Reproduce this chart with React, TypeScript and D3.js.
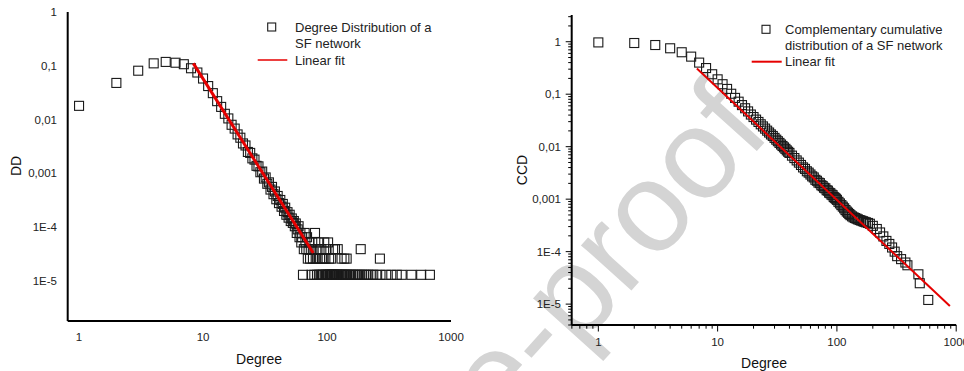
import React from 'react'
import * as d3 from 'd3'

// degree distribution: [degree, DD]
const ddPoints: [number, number][] = [
  [1, 0.018], [2, 0.048], [3, 0.081], [4, 0.111], [5, 0.118], [6, 0.114], [7, 0.107], [8, 0.09],
  [9, 0.075], [10, 0.058], [11, 0.042], [12, 0.031], [13, 0.022], [14, 0.0172], [15, 0.0128],
  [16, 0.0105], [17, 0.008], [18, 0.0068], [19, 0.0053], [20, 0.0046], [21, 0.0036], [22, 0.0033],
  [23, 0.0025], [24, 0.0024], [25, 0.0019], [26, 0.0018], [27, 0.00138], [28, 0.00135], [29, 0.00105],
  [30, 0.00108], [31, 0.0008], [32, 0.00084], [33, 0.00064], [34, 0.00068], [35, 0.0005], [36, 0.00056],
  [37, 0.00041], [38, 0.00046], [39, 0.00033], [40, 0.00038], [41, 0.00028], [42, 0.00032], [43, 0.00024],
  [44, 0.00027], [45, 0.0002], [46, 0.00023], [47, 0.00017], [48, 0.00019], [49, 0.00015], [50, 0.00017],
  [51, 0.00013], [52, 0.000145], [53, 0.00012], [54, 0.00013],
  [55, 1.04e-4], [56, 1.17e-4], [57, 7.8e-5], [58, 9.1e-5], [59, 1.04e-4], [60, 6.5e-5], [61, 7.8e-5],
  [62, 5.2e-5], [63, 6.5e-5], [65, 3.9e-5], [66, 7.8e-5], [67, 5.2e-5], [68, 3.9e-5], [69, 6.5e-5],
  [70, 2.6e-5], [71, 3.9e-5], [72, 5.2e-5], [73, 2.6e-5], [74, 3.9e-5], [76, 5.2e-5], [77, 2.6e-5],
  [78, 3.9e-5], [80, 7.8e-5], [81, 2.6e-5], [82, 3.9e-5], [84, 2.6e-5], [85, 5.2e-5], [87, 3.9e-5],
  [88, 2.6e-5], [90, 3.9e-5], [92, 2.6e-5], [94, 2.6e-5], [95, 5.2e-5], [97, 2.6e-5], [99, 3.9e-5],
  [102, 5.2e-5], [104, 2.6e-5], [108, 2.6e-5], [112, 3.9e-5], [116, 3.9e-5], [122, 3.9e-5],
  [131, 2.6e-5], [138, 2.6e-5], [144, 2.6e-5], [187, 3.9e-5], [267, 2.6e-5]
]
// degrees sitting on the lowest level (one node)
const ddFloor = 1.3e-5
const ddFloorDegrees = [
  64, 75, 79, 83, 86, 89, 91, 93, 96, 98, 100, 101, 103, 105, 106, 107, 109, 110, 111, 113, 114, 115,
  117, 119, 120, 121, 124, 126, 129, 132, 134, 137, 140, 142, 145, 149, 153, 157, 162, 167, 172, 178,
  184, 191, 198, 206, 215, 225, 236, 250, 270, 300, 330, 365, 400, 480, 575, 676
]
const ddFit: [number, number][] = [[8.35, 0.111], [77.5, 3.3e-5]]

// complementary cumulative distribution: [degree, CCD]
const ccdPoints: [number, number][] = [
  [1, 0.97], [2, 0.945], [3, 0.865], [4, 0.75], [5, 0.63], [6, 0.52], [7, 0.4], [8, 0.315], [9, 0.24],
  [10, 0.192], [11, 0.155], [12, 0.126], [13, 0.102], [14, 0.085], [15, 0.072], [16, 0.062], [17, 0.054],
  [18, 0.047], [19, 0.041], [20, 0.0367], [21, 0.0328], [22, 0.0296], [23, 0.0267], [24, 0.0243],
  [25, 0.0221], [26, 0.0202], [27, 0.0186], [28, 0.0171], [29, 0.016], [30, 0.0147], [31, 0.0136],
  [32, 0.0127], [33, 0.0118], [34, 0.011], [35, 0.0103], [36, 0.0097], [37, 0.0091], [38, 0.0085],
  [39, 0.008], [40, 0.0076], [42, 0.00675], [44, 0.00607], [46, 0.00547], [48, 0.00497], [50, 0.00448],
  [52, 0.00403], [54, 0.00377], [56, 0.0034], [58, 0.0032], [60, 0.00295], [62, 0.00272], [64, 0.00259],
  [66, 0.00234], [68, 0.00224], [70, 0.00207], [72, 0.00202], [74, 0.00184], [76, 0.00177], [78, 0.00165],
  [80, 0.00161], [82, 0.00148], [84, 0.00145], [86, 0.00133], [88, 0.0013], [90, 0.00122], [92, 0.00119],
  [94, 0.0011], [96, 0.00106], [98, 0.00102], [100, 0.00097], [103, 0.00089], [106, 0.00083],
  [109, 0.00077], [112, 0.00072], [115, 0.00067], [118, 0.00062], [121, 0.00058], [124, 0.00055],
  [127, 0.00052], [130, 0.000495], [134, 0.00047], [138, 0.00045], [142, 0.000437], [146, 0.000425],
  [150, 0.000412], [155, 0.0004], [160, 0.00039], [165, 0.00038], [170, 0.00037], [175, 0.000362],
  [182, 0.000352], [189, 0.00034], [200, 0.00031], [216, 0.00027], [230, 0.000232], [245, 0.000195],
  [260, 0.00016], [275, 0.00014], [290, 0.00012], [305, 0.0001], [320, 8.2e-5], [345, 7.2e-5],
  [375, 6.2e-5], [390, 5.5e-5], [482, 3.7e-5], [495, 2.5e-5], [583, 1.2e-5]
]
const ccdFit: [number, number][] = [[6.7, 0.31], [885, 9.2e-6]]

const decadeValues = [1, 0.1, 0.01, 0.001, 1e-4, 1e-5]
const decadeLabels = ['1', '0,1', '0,01', '0,001', '1E-4', '1E-5']
const degreeTicks = [1, 10, 100, 1000]
const ddLegend = ['Degree Distribution of a', 'SF network', 'Linear fit']
const ccdLegend = ['Complementary cumulative', 'distribution of a SF network', 'Linear fit']

const FONT = '"Liberation Sans", Arial, sans-serif'
const SQ = 9

function Square({ cx, cy, size = SQ }: { cx: number; cy: number; size?: number }) {
  return (
    <rect x={cx - size / 2} y={cy - size / 2} width={size} height={size}
      fill="none" stroke="#1a1a1a" strokeWidth={1.1} />
  )
}

function isDecade(v: number) {
  const l = Math.log10(v)
  return Math.abs(l - Math.round(l)) < 1e-6
}

function DDPanel() {
  const x = d3.scaleLog().domain([0.81, 1000]).range([67.7, 451])
  const y = d3.scaleLog().domain([1, 1.8e-6]).range([12, 321])
  const line = d3.line<[number, number]>().x(d => x(d[0])).y(d => y(d[1]))
  return (
    <g fontFamily={FONT}>
      <line x1={x.range()[0]} x2={x.range()[0]} y1={y.range()[0]} y2={y.range()[1]} stroke="#000" strokeWidth={2} />
      <line x1={x.range()[0]} x2={x.range()[1]} y1={y.range()[1]} y2={y.range()[1]} stroke="#000" strokeWidth={2} />
      {decadeValues.map((v, i) => (
        <text key={v} x={57} y={y(v)} dy="0.35em" textAnchor="end" fontSize={11.5} fill="#222">{decadeLabels[i]}</text>
      ))}
      {degreeTicks.map(k => (
        <text key={k} x={x(k)} y={341} textAnchor="middle" fontSize={11.5} fill="#222">{k}</text>
      ))}
      <text x={259} y={364} textAnchor="middle" fontSize={14} fill="#111">Degree</text>
      <text transform="translate(21,166) rotate(-90)" textAnchor="middle" fontSize={14} fill="#111">DD</text>

      {ddPoints.map(([k, v], i) => <Square key={'p' + i} cx={x(k)} cy={y(v)} />)}
      {ddFloorDegrees.map((k, i) => <Square key={'f' + i} cx={x(k)} cy={y(ddFloor)} />)}
      <path d={line(ddFit) || ''} fill="none" stroke="#e60000" strokeWidth={3} />

      <Square cx={271.7} cy={27} size={8} />
      <line x1={257.7} x2={287.3} y1={60} y2={60} stroke="#e60000" strokeWidth={1.5} />
      {ddLegend.map((t, i) => (
        <text key={t} x={295} y={[31.8, 47.8, 64.5][i]} fontSize={13} fill="#222">{t}</text>
      ))}
    </g>
  )
}

function CCDPanel() {
  const x = d3.scaleLog().domain([0.598, 1000]).range([571.7, 956.2])
  const y = d3.scaleLog().domain([3.23, 4e-6]).range([15, 325])
  const line = d3.line<[number, number]>().x(d => x(d[0])).y(d => y(d[1]))
  const x0 = x.range()[0]
  const y0 = y.range()[1]
  return (
    <g fontFamily={FONT}>
      {y.ticks().map((v, i) => (
        <line key={'yt' + i} x1={x0 - (isDecade(v) ? 6 : 3.5)} x2={x0} y1={y(v)} y2={y(v)} stroke="#000" strokeWidth={1} />
      ))}
      {x.ticks().map((v, i) => (
        <line key={'xt' + i} x1={x(v)} x2={x(v)} y1={y0} y2={y0 + (isDecade(v) ? 6.5 : 3.7)} stroke="#000" strokeWidth={1} />
      ))}
      <line x1={x0} x2={x0} y1={y.range()[0]} y2={y0} stroke="#000" strokeWidth={2} />
      <line x1={x0} x2={x.range()[1]} y1={y0} y2={y0} stroke="#000" strokeWidth={2} />
      {decadeValues.map((v, i) => (
        <text key={v} x={561} y={y(v)} dy="0.35em" textAnchor="end" fontSize={11.5} fill="#222">{decadeLabels[i]}</text>
      ))}
      {degreeTicks.map(k => (
        <text key={k} x={x(k)} y={346} textAnchor="middle" fontSize={11.5} fill="#222">{k}</text>
      ))}
      <text x={764} y={368} textAnchor="middle" fontSize={14} fill="#111">Degree</text>
      <text transform="translate(526.5,170) rotate(-90)" textAnchor="middle" fontSize={14} fill="#111">CCD</text>

      {ccdPoints.map(([k, v], i) => <Square key={'c' + i} cx={x(k)} cy={y(v)} />)}
      <path d={line(ccdFit) || ''} fill="none" stroke="#e60000" strokeWidth={2} />

      <Square cx={766} cy={29.3} size={8} />
      <line x1={751.7} x2={781.7} y1={61.7} y2={61.7} stroke="#e60000" strokeWidth={2} />
      {ccdLegend.map((t, i) => (
        <text key={t} x={785} y={[33.8, 49.8, 66.2][i]} fontSize={13} fill="#222">{t}</text>
      ))}
    </g>
  )
}

export default function App() {
  return (
    <div style={{ position: 'absolute', left: 0, top: 0 }}>
      <svg width={964} height={371} style={{ display: 'block', background: '#fff' }}>
        <rect width={964} height={371} fill="#fff" />
        <text transform="translate(773,133) rotate(-48)" textAnchor="end" fontFamily={FONT}
          fontSize={128} fill="#d4d4d4">Journal Pre-proof</text>
        <DDPanel />
        <CCDPanel />
      </svg>
    </div>
  )
}
